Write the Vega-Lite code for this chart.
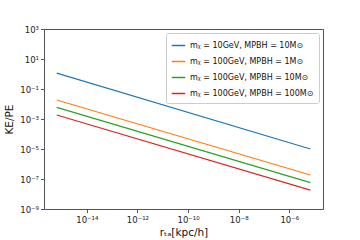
{
  "$schema": "https://vega.github.io/schema/vega-lite/v6.json",
  "width": 279,
  "height": 180,
  "autosize": {"type": "none"},
  "padding": {"left": 44, "top": 29, "right": 37, "bottom": 31},
  "background": "white",
  "config": {
    "font": "DejaVu Sans",
    "view": {"stroke": "#555", "strokeWidth": 1},
    "axis": {
      "grid": false,
      "domainColor": "#555",
      "tickColor": "#555",
      "tickSize": 3.5,
      "labelFontSize": 8.5,
      "labelColor": "#222",
      "titleFontSize": 10.5,
      "titleFontWeight": "normal",
      "titleColor": "#111",
      "labelFont": "DejaVu Sans",
      "titleFont": "DejaVu Sans"
    }
  },
  "data": {
    "values": [
      {"r": 6.5e-16, "v": 1.15, "s": "mᵪ = 10GeV, MPBH = 10M⊙", "o": 1},
      {"r": 6.8e-6, "v": 1.0e-5, "s": "mᵪ = 10GeV, MPBH = 10M⊙", "o": 1},
      {"r": 6.5e-16, "v": 0.0186, "s": "mᵪ = 100GeV, MPBH = 1M⊙", "o": 2},
      {"r": 6.8e-6, "v": 1.86e-7, "s": "mᵪ = 100GeV, MPBH = 1M⊙", "o": 2},
      {"r": 6.5e-16, "v": 0.0059, "s": "mᵪ = 100GeV, MPBH = 10M⊙", "o": 3},
      {"r": 6.8e-6, "v": 5.7e-8, "s": "mᵪ = 100GeV, MPBH = 10M⊙", "o": 3},
      {"r": 6.5e-16, "v": 0.00186, "s": "mᵪ = 100GeV, MPBH = 100M⊙", "o": 4},
      {"r": 6.8e-6, "v": 1.8e-8, "s": "mᵪ = 100GeV, MPBH = 100M⊙", "o": 4}
    ]
  },
  "mark": {"type": "line", "strokeWidth": 1.2, "clip": true},
  "encoding": {
    "x": {
      "field": "r",
      "type": "quantitative",
      "scale": {"type": "log", "domain": [2.04e-16, 2.14e-5], "nice": false},
      "axis": {
        "title": "rₜₐ[kpc/h]",
        "values": [1e-14, 1e-12, 1e-10, 1e-8, 1e-6],
        "labelExpr": "'10' + replace(replace(replace(replace(replace(replace(replace(replace(replace(replace(replace('' + round(log(datum.value)/LN10),'-','⁻'),'0','⁰'),'1','¹'),'2','²'),'3','³'),'4','⁴'),'5','⁵'),'6','⁶'),'7','⁷'),'8','⁸'),'9','⁹')",
        "labelPadding": 3,
        "titlePadding": 3
      }
    },
    "y": {
      "field": "v",
      "type": "quantitative",
      "scale": {"type": "log", "domain": [1e-9, 1000], "nice": false},
      "axis": {
        "title": "KE/PE",
        "values": [1e-9, 1e-7, 1e-5, 1e-3, 1e-1, 10, 1000],
        "labelExpr": "'10' + replace(replace(replace(replace(replace(replace(replace(replace(replace(replace(replace('' + round(log(datum.value)/LN10),'-','⁻'),'0','⁰'),'1','¹'),'2','²'),'3','³'),'4','⁴'),'5','⁵'),'6','⁶'),'7','⁷'),'8','⁸'),'9','⁹')",
        "labelPadding": 2,
        "titlePadding": 5
      }
    },
    "color": {
      "field": "s",
      "type": "nominal",
      "sort": {"field": "o"},
      "scale": {
        "domain": ["mᵪ = 10GeV, MPBH = 10M⊙", "mᵪ = 100GeV, MPBH = 1M⊙", "mᵪ = 100GeV, MPBH = 10M⊙", "mᵪ = 100GeV, MPBH = 100M⊙"],
        "range": ["#1f77b4", "#ff7f0e", "#2ca02c", "#d62728"]
      },
      "legend": {
        "title": null,
        "orient": "top-right",
        "offset": 4,
        "symbolType": "stroke",
        "symbolStrokeWidth": 1.5,
        "symbolSize": 180,
        "labelFontSize": 8,
        "labelColor": "#111",
        "rowPadding": 4,
        "padding": 5,
        "strokeColor": "#ccc",
        "fillColor": "white",
        "cornerRadius": 2,
        "labelLimit": 200
      }
    }
  }
}
